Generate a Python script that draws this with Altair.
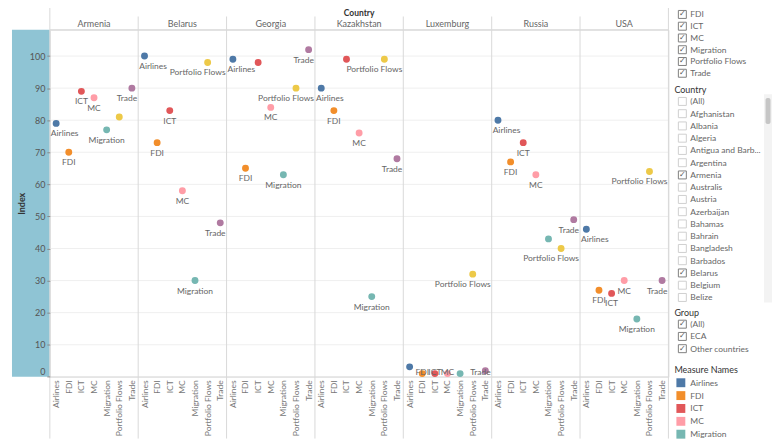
import altair as alt
import pandas as pd

# ---------------- data ----------------
countries = ["Armenia", "Belarus", "Georgia", "Kazakhstan", "Luxemburg", "Russia", "USA"]
measures = ["Airlines", "FDI", "ICT", "MC", "Migration", "Portfolio Flows", "Trade"]
palette = ["#4e79a7", "#f28e2b", "#e15759", "#ff9da7", "#76b7b2", "#edc948", "#b07aa1"]

armenia = [79, 70, 89, 87, 77, 81, 90]
belarus = [100, 73, 83, 58, 30, 98, 48]
georgia = [99, 65, 98, 84, 63, 90, 102]
kazakhstan = [90, 83, 99, 76, 25, 99, 68]
luxemburg = [3.1, 1.0, 1.0, 1.0, 1.0, 32, 1.9]
russia = [80, 67, 73, 63, 43, 40, 49]
usa = [46, 27, 26, 30, 18, 64, 30]
series = [armenia, belarus, georgia, kazakhstan, luxemburg, russia, usa]

hidden_labels = [("Armenia", "Portfolio Flows"), ("Georgia", "ICT"), ("Kazakhstan", "ICT"),
                 ("Luxemburg", "Airlines"), ("Luxemburg", "Migration"), ("Russia", "Migration")]
y_ticks = [0, 10, 20, 30, 40, 50, 60, 70, 80, 90, 100]

measure_filter = ["FDI", "ICT", "MC", "Migration", "Portfolio Flows", "Trade"]
country_filter = ["(All)", "Afghanistan", "Albania", "Algeria", "Antigua and Barb...", "Argentina",
                  "Armenia", "Australis", "Austria", "Azerbaijan", "Bahamas", "Bahrain",
                  "Bangladesh", "Barbados", "Belarus", "Belgium", "Belize"]
country_checked = ["Armenia", "Belarus"]
group_filter = ["(All)", "ECA", "Other countries"]
legend_visible = ["Airlines", "FDI", "ICT", "MC", "Migration"]

# ---------------- tables ----------------
rows = []
for c, vals in zip(countries, series):
    for m, v in zip(measures, vals):
        rows.append(dict(Country=c, Measure=m, Value=v, key=f"{c}|{m}",
                         label="" if (c, m) in hidden_labels else m))
df = pd.DataFrame(rows)
keys = list(df["key"])
hdr_df = pd.DataFrame({"Country": countries, "key": [f"{c}|MC" for c in countries]})
sep_df = pd.DataFrame({"key": [f"{c}|Airlines" for c in countries[1:]]})
tick_df = pd.DataFrame({"t": y_ticks})
one = pd.DataFrame({"a": [0]})

side = []
for i, t in enumerate(measure_filter):
    side.append(dict(u=0.62 + 0.96 * i, text=t, kind="check", checked=True, Measure=None))
side.append(dict(u=6.78, text="Country", kind="header", checked=False, Measure=None))
for i, t in enumerate(country_filter):
    side.append(dict(u=7.72 + i, text=t, kind="check", checked=t in country_checked, Measure=None))
side.append(dict(u=24.96, text="Group", kind="header", checked=False, Measure=None))
for i, t in enumerate(group_filter):
    side.append(dict(u=25.9 + i, text=t, kind="check", checked=True, Measure=None))
side.append(dict(u=29.65, text="Measure Names", kind="header", checked=False, Measure=None))
for i, m in enumerate(legend_visible):
    side.append(dict(u=30.68 + 1.05 * i, text=m, kind="legend", checked=False, Measure=m))
side_df = pd.DataFrame(side)

# ---------------- geometry ----------------
W = 621
H = 348.4
FONT = "Lato"
FS = 8.5

xscale = alt.Scale(type="band", domain=keys, paddingInner=0, paddingOuter=0)
yscale = alt.Scale(domain=[0, 108.2], nice=False, zero=False)
cscale = alt.Scale(domain=measures, range=palette)

xaxis = alt.Axis(title=None, labelExpr="split(datum.label, '|')[1]", labelAngle=-90,
                 labelFontSize=FS, labelColor="#777", ticks=False, domain=False,
                 labelPadding=3, labelOverlap=False)
yaxis = alt.Axis(title="Index", values=y_ticks, grid=False, domain=False,
                 tickColor="#888", tickSize=3, labelColor="#555", labelFontSize=9,
                 labelPadding=2, labelFlush=True, titleFontSize=9, titleColor="#333",
                 titleFontWeight="bold", titlePadding=3, zindex=1)

# ---------------- main panel ----------------
box = alt.Chart(one).mark_rect(color="#8fc4d4").encode(
    x=alt.value(-38), x2=alt.value(0), y=alt.value(0), y2=alt.value(H))

grid = alt.Chart(tick_df).mark_rule(color="#efefef", strokeWidth=1).encode(
    y=alt.Y("t:Q", scale=yscale, axis=yaxis))

frame_top = alt.Chart(one).mark_rule(color="#d9d9d9").encode(
    x=alt.value(0), x2=alt.value(W), y=alt.value(0))
frame_bot = alt.Chart(one).mark_rule(color="#e4e4e4").encode(
    x=alt.value(0), x2=alt.value(W), y=alt.value(H))
frame_left = alt.Chart(one).mark_rule(color="#d9d9d9").encode(
    x=alt.value(0), y=alt.value(-28.3), y2=alt.value(H + 62))
frame_right = alt.Chart(one).mark_rule(color="#d9d9d9").encode(
    x=alt.value(W), y=alt.value(-28.3), y2=alt.value(H + 62))
seps = alt.Chart(sep_df).mark_rule(color="#d9d9d9").encode(
    x=alt.X("key:N", scale=xscale, bandPosition=0, axis=xaxis),
    y=alt.value(-13.3), y2=alt.value(H + 62))

points = alt.Chart(df).mark_circle(size=48, opacity=1).encode(
    x=alt.X("key:N", scale=xscale, axis=xaxis),
    y=alt.Y("Value:Q", scale=yscale, axis=yaxis),
    color=alt.Color("Measure:N", scale=cscale, legend=None),
)

lab_base = alt.Chart(df).transform_filter("datum.label != ''").transform_calculate(
    labY="max(datum.Value - 3.1, 1.6)",
    edge="datum.Measure == 'Airlines' ? datum.Country + '|Airlines' : datum.Country + '|Trade'")
lab_style = dict(baseline="middle", fontSize=FS, color="#666")
lab_center = lab_base.transform_filter(
    "datum.Measure != 'Airlines' && datum.Measure != 'Trade' && datum.Measure != 'Portfolio Flows'"
).mark_text(align="center", **lab_style).encode(
    x=alt.X("key:N", scale=xscale, axis=xaxis), y=alt.Y("labY:Q", scale=yscale, axis=yaxis),
    text="label:N")
lab_left = lab_base.transform_filter("datum.Measure == 'Airlines'").mark_text(
    align="left", dx=1, **lab_style).encode(
    x=alt.X("edge:N", scale=xscale, bandPosition=0, axis=xaxis),
    y=alt.Y("labY:Q", scale=yscale, axis=yaxis), text="label:N")
lab_right = lab_base.transform_filter(
    "datum.Measure == 'Trade' || datum.Measure == 'Portfolio Flows'").mark_text(
    align="right", dx=-1, **lab_style).encode(
    x=alt.X("edge:N", scale=xscale, bandPosition=1, axis=xaxis),
    y=alt.Y("labY:Q", scale=yscale, axis=yaxis), text="label:N")

headers = alt.Chart(hdr_df).mark_text(baseline="middle", fontSize=9, color="#666").encode(
    x=alt.X("key:N", scale=xscale, axis=xaxis), y=alt.value(-6.2), text="Country:N")
head_title = alt.Chart(one).mark_text(baseline="middle", fontSize=8.5, color="#333",
                                      fontWeight="bold").encode(
    x=alt.value(W / 2), y=alt.value(-17.2), text=alt.value("Country"))

main = alt.layer(box, grid, frame_top, frame_bot, seps, frame_left, frame_right,
                 points, lab_center, lab_left, lab_right, headers, head_title)

# ---------------- side panel ----------------
sy = alt.Y("u:Q", scale=alt.Scale(domain=[0, 1], range=[-23, -10.7], nice=False, zero=False),
           axis=None)
sbase = alt.Chart(side_df)
s_head = sbase.transform_filter("datum.kind == 'header'").mark_text(
    align="left", baseline="middle", fontSize=FS + 0.5, color="#333").encode(
    x=alt.value(627), y=sy, text="text:N")
s_text = sbase.transform_filter("datum.kind != 'header'").mark_text(
    align="left", baseline="middle", fontSize=FS, color="#666").encode(
    x=alt.value(643), y=sy, text="text:N")
s_box = sbase.transform_filter("datum.kind == 'check'").mark_square(
    size=64, fill="white", strokeWidth=1, opacity=1).encode(
    x=alt.value(635), y=sy,
    stroke=alt.condition("datum.checked", alt.value("#808080"), alt.value("#d0d0d0")))
s_tick = sbase.transform_filter("datum.kind == 'check' && datum.checked").mark_text(
    align="center", baseline="middle", fontSize=8, font="DejaVu Sans", color="#555").encode(
    x=alt.value(635), y=sy, text=alt.value("\u2713"))
s_sw = sbase.transform_filter("datum.kind == 'legend'").mark_square(size=80, opacity=1).encode(
    x=alt.value(633.5), y=sy, color=alt.Color("Measure:N", scale=cscale, legend=None))
s_track = alt.Chart(one).mark_rect(color="#f3f3f3").encode(
    x=alt.value(717), x2=alt.value(725), y=alt.value(64.7), y2=alt.value(273.7))
s_thumb = alt.Chart(one).mark_rect(color="#c6c6c6", cornerRadius=2).encode(
    x=alt.value(718.5), x2=alt.value(723.5), y=alt.value(68.4), y2=alt.value(94.7))

side_panel = alt.layer(s_track, s_thumb, s_head, s_text, s_box, s_tick, s_sw)

chart = alt.layer(main, side_panel).resolve_scale(y="independent").properties(
    width=W, height=H,
    padding={"left": 4, "top": -8, "right": 0, "bottom": 0},
).configure_view(stroke=None).configure(font=FONT)

chart.save("out.html", embed_options={"renderer": "svg", "actions": False})
